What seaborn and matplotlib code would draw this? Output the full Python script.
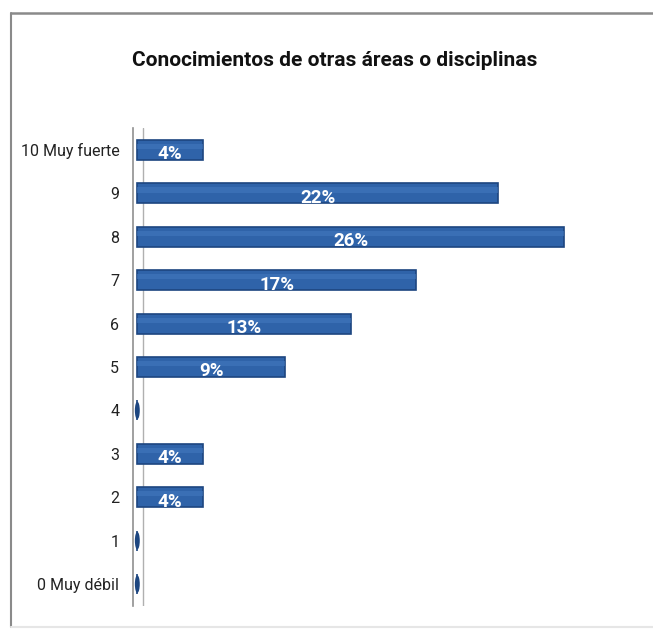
import numpy as np
import pandas as pd
import matplotlib
matplotlib.use("Agg")
import matplotlib.pyplot as plt
from matplotlib.path import Path
from matplotlib.transforms import Affine2D
from matplotlib.lines import Line2D
import seaborn as sns

# datos
categorias = ["10 Muy fuerte", "9", "8", "7", "6", "5", "4", "3", "2", "1", "0 Muy débil"]
porcentajes = [4, 22, 26, 17, 13, 9, 0, 4, 4, 0, 0]
titulo = "Conocimientos de otras áreas o disciplinas"

df = pd.DataFrame({"categoria": categorias, "pct": porcentajes})

sns.set_style("white")
plt.rcParams["font.family"] = ["Roboto", "DejaVu Sans"]

fig = plt.figure(figsize=(6.53, 6.35), dpi=100)
ax = fig.add_axes([0.204, 0.046, 0.71, 0.752])

azul = "#2f63a9"
borde = "#1d4680"

sns.barplot(data=df, x="pct", y="categoria", order=categorias, color=azul,
            edgecolor=borde, linewidth=1.2, width=0.46, saturation=1, ax=ax)

# brillo del cilindro
sns.barplot(data=df, x="pct", y="categoria", order=categorias, color="#4378be",
            linewidth=0, width=0.12, saturation=1, ax=ax)
for p in ax.patches[len(categorias):]:
    p.set_y(p.get_y() - 0.08)
    p.set_alpha(0.6)

# valores cero: pequeñas elipses
ceros = df[df["pct"] == 0]
elipse = Path.unit_circle().transformed(Affine2D().scale(0.28, 1.0))
sns.scatterplot(data=ceros, x="pct", y="categoria", marker=elipse, s=160,
                color="#1d4680", edgecolor="none", ax=ax, zorder=5)

# etiquetas
for i, v in enumerate(porcentajes):
    if v > 0:
        ax.text(v / 2, i + 0.1, f"{v}%", color="white", fontsize=13.5,
                fontweight="bold", ha="center", va="center")

ax.set_xlim(-0.25, 28)
ax.set_ylim(len(categorias) - 0.5, -0.5)
ax.set_xlabel("")
ax.set_ylabel("")
ax.set_xticks([])
ax.tick_params(axis="y", labelsize=11.5, pad=10, length=0, labelcolor="#222222")
for s in ["top", "right", "bottom"]:
    ax.spines[s].set_visible(False)
ax.spines["left"].set_color("#909090")
ax.spines["left"].set_linewidth(1.2)
ax.axvline(0.36, color="#b0b0b0", lw=1.0, zorder=0)

fig.text(0.513, 0.905, titulo, ha="center", va="center", fontsize=15,
         fontweight="bold", color="#111111")

# marco
fig.add_artist(Line2D([0.017, 1.0], [0.979, 0.979], color="#8a8a8a", lw=1.8))
fig.add_artist(Line2D([0.017, 0.017], [0.012, 0.979], color="#8a8a8a", lw=1.5))
fig.add_artist(Line2D([0.017, 1.0], [0.012, 0.012], color="#e6e6e6", lw=1.5))

fig.savefig("out.png", dpi=100)
